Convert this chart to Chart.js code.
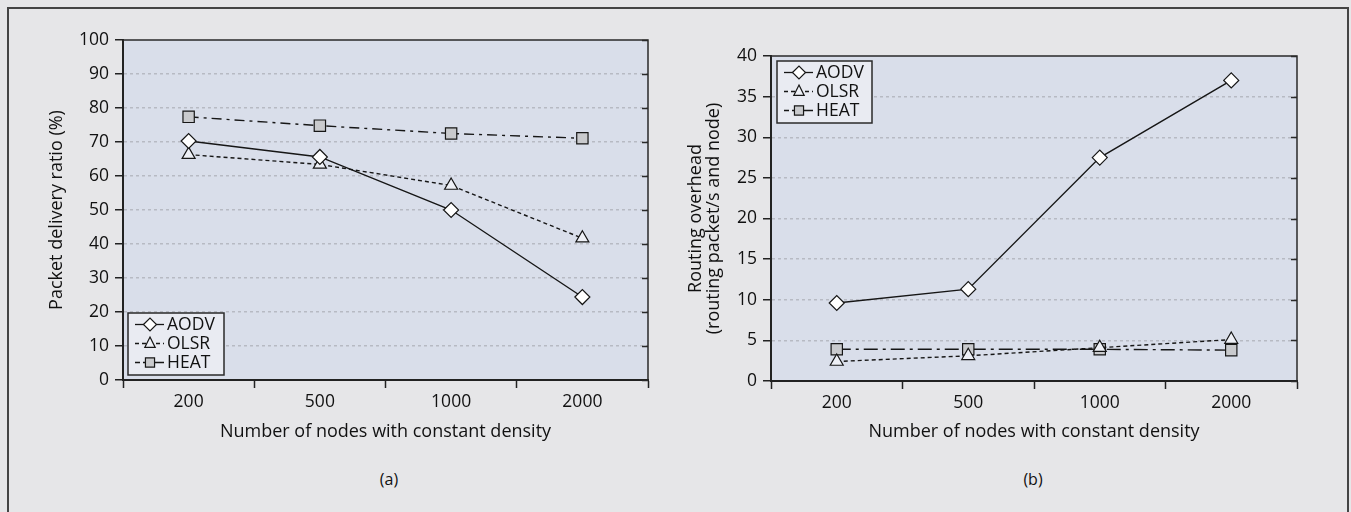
<!DOCTYPE html>
<html>
<head>
<meta charset="utf-8">
<script src="https://cdn.jsdelivr.net/npm/chart.js@4.4.1/dist/chart.umd.min.js"></script>
<style>
  html, body { margin: 0; padding: 0; background: #e6e6e8; width: 1351px; height: 512px; overflow: hidden; }
  #frame { position: absolute; left: 7px; top: 7px; width: 1338px; height: 520px; border: 2px solid #444; border-bottom: none; }
  canvas { position: absolute; top: 0; }
  #chartA { left: 0; }
  #chartB { left: 680px; }
  .cap { position: absolute; top: 468px; font: 16px "Open Sans", sans-serif; color: #111; transform: translateX(-50%); }
</style>
</head>
<body>
<div id="frame"></div>
<canvas id="chartA" width="680" height="460"></canvas>
<canvas id="chartB" width="671" height="460"></canvas>
<div class="cap" style="left:389px">(a)</div>
<div class="cap" style="left:1033px">(b)</div>
<script>
// data
const categories = ["200", "500", "1000", "2000"];
const seriesNames = ["AODV", "OLSR", "HEAT"];

const deliveryAODV = [70.3, 65.6, 50.0, 24.4];
const deliveryOLSR = [66.3, 63.4, 57.2, 41.7];
const deliveryHEAT = [77.4, 74.8, 72.5, 71.1];

const overheadAODV = [9.6, 11.3, 27.5, 37.0];
const overheadOLSR = [2.4, 3.1, 4.1, 5.1];
const overheadHEAT = [3.9, 3.9, 3.9, 3.8];

const FONT = '"Open Sans", sans-serif';
const INK = "#161616";

function drawMarker(ctx, style, x, y, r, fill) {
  ctx.save();
  ctx.fillStyle = fill;
  ctx.strokeStyle = INK;
  ctx.lineWidth = 1.2;
  ctx.setLineDash([]);
  ctx.beginPath();
  if (style === "rectRot") {
    ctx.moveTo(x - r, y); ctx.lineTo(x, y - r); ctx.lineTo(x + r, y); ctx.lineTo(x, y + r);
  } else if (style === "triangle") {
    ctx.moveTo(x, y - r); ctx.lineTo(x + r * 0.8, y + r * 0.6); ctx.lineTo(x - r * 0.8, y + r * 0.6);
  } else {
    ctx.rect(x - r * 0.7, y - r * 0.7, r * 1.4, r * 1.4);
  }
  ctx.closePath();
  ctx.fill();
  ctx.stroke();
  ctx.restore();
}

// plot background, top/right border and inner ticks on the right
const plotFrame = {
  id: "plotFrame",
  beforeDraw(chart, args, opts) {
    const { ctx, chartArea: a } = chart;
    ctx.save();
    ctx.fillStyle = opts.fill;
    ctx.fillRect(a.left, a.top, a.right - a.left, a.bottom - a.top);
    ctx.restore();
  },
  beforeDatasetsDraw(chart) {
    const { ctx, chartArea: a } = chart;
    const y = chart.scales.y;
    ctx.save();
    ctx.strokeStyle = "#2a2a2a";
    ctx.lineWidth = 1.5;
    ctx.beginPath();
    ctx.moveTo(a.left, a.top); ctx.lineTo(a.right, a.top); ctx.lineTo(a.right, a.bottom);
    ctx.stroke();
    ctx.beginPath();
    y.ticks.forEach((t) => {
      const py = Math.round(y.getPixelForValue(t.value)) + 0.5;
      ctx.moveTo(a.right, py); ctx.lineTo(a.right - 6, py);
    });
    ctx.stroke();
    ctx.restore();
  },
};

// boxed legend inside the plot area
const boxLegend = {
  id: "boxLegend",
  afterDraw(chart, args, opts) {
    const { ctx, chartArea: a } = chart;
    const bx = a.left + opts.dx;
    const by = opts.fromBottom ? a.bottom - opts.dy : a.top + opts.dy;
    ctx.save();
    ctx.fillStyle = "#e9ebf2";
    ctx.strokeStyle = "#2a2a2a";
    ctx.lineWidth = 1.5;
    ctx.fillRect(bx, by, opts.w, opts.h);
    ctx.strokeRect(bx, by, opts.w, opts.h);
    chart.data.datasets.forEach((ds, i) => {
      const cy = by + 11.5 + i * 19;
      ctx.strokeStyle = INK;
      ctx.lineWidth = 1.3;
      ctx.setLineDash(opts.dashes[i]);
      ctx.beginPath();
      ctx.moveTo(bx + 7, cy); ctx.lineTo(bx + 36, cy);
      ctx.stroke();
      drawMarker(ctx, ds.pointStyle, bx + 22, cy, 6.5, ds.pointBackgroundColor);
      ctx.setLineDash([]);
      ctx.fillStyle = "#111";
      ctx.font = "17.5px " + FONT;
      ctx.textBaseline = "middle";
      ctx.fillText(ds.label, bx + 39, cy + 1);
    });
    ctx.restore();
  },
};

function makeDatasets(aodv, olsr, heat, heatDash) {
  const base = { borderColor: INK, borderWidth: 1.4, pointBorderColor: INK, pointBorderWidth: 1.2, tension: 0 };
  return [
    { ...base, label: seriesNames[0], data: aodv, pointStyle: "rectRot", pointRadius: 7.5, pointBackgroundColor: "#ffffff" },
    { ...base, label: seriesNames[1], data: olsr, borderDash: [4, 3], pointStyle: "triangle", pointRadius: 7.5, pointBackgroundColor: "#eef0f6" },
    { ...base, label: seriesNames[2], data: heat, borderDash: heatDash, pointStyle: "rect", pointRadius: 8, pointBackgroundColor: "#c9cacd" },
  ];
}

function makeOptions(cfg) {
  return {
    responsive: false,
    animation: false,
    layout: { padding: { top: cfg.top, right: cfg.right, left: 0, bottom: 0 } },
    plugins: {
      legend: { display: false },
      tooltip: { enabled: false },
      plotFrame: { fill: "#d9deea" },
      boxLegend: cfg.legend,
    },
    scales: {
      x: {
        type: "category",
        offset: true,
        grid: { drawOnChartArea: false, offset: true, tickLength: 8, tickColor: "#222", tickWidth: 1.5 },
        border: { color: "#222", width: 2 },
        ticks: { color: "#111", font: { family: FONT, size: 17.5 }, padding: 4, maxRotation: 0 },
        title: {
          display: true, text: "Number of nodes with constant density", color: "#111",
          font: { family: FONT, size: 18, lineHeight: 1.2 }, padding: { top: 0, bottom: 17 },
        },
        afterFit: (s) => { s.height = cfg.xHeight; },
      },
      y: {
        min: 0,
        max: cfg.max,
        ticks: { stepSize: cfg.step, color: "#111", font: { family: FONT, size: 17.5 }, padding: 6 },
        grid: {
          color: (c) => (c.tick && (c.tick.value === 0 || c.tick.value === cfg.max)) ? "rgba(0,0,0,0)" : "#b7bac3",
          lineWidth: 1.5, tickLength: 8, tickColor: "#222", tickWidth: 1.5,
        },
        border: { color: "#222", width: 2, dash: [3, 3] },
        title: {
          display: true, text: cfg.yTitle, color: "#111",
          font: { family: FONT, size: 18, lineHeight: 1.0 }, padding: { top: cfg.yTitlePad, bottom: 0 },
        },
        afterFit: (s) => { s.width = cfg.yWidth; },
      },
    },
  };
}

new Chart(document.getElementById("chartA"), {
  type: "line",
  data: { labels: categories, datasets: makeDatasets(deliveryAODV, deliveryOLSR, deliveryHEAT, [10, 5, 3, 5]) },
  options: makeOptions({
    top: 40, right: 32, xHeight: 80, yWidth: 123, max: 100, step: 10,
    yTitle: "Packet delivery ratio (%)", yTitlePad: 48,
    legend: { dx: 5, dy: 67, fromBottom: true, w: 96, h: 62, dashes: [[], [4, 3], [5, 3, 40]] },
  }),
  plugins: [plotFrame, boxLegend],
});

new Chart(document.getElementById("chartB"), {
  type: "line",
  data: { labels: categories, datasets: makeDatasets(overheadAODV, overheadOLSR, overheadHEAT, [14, 5, 3, 5]) },
  options: makeOptions({
    top: 56, right: 54, xHeight: 79, yWidth: 91, max: 40, step: 5,
    yTitle: ["Routing overhead", "(routing packet/s and node)"], yTitlePad: 7,
    legend: { dx: 6, dy: 5, fromBottom: false, w: 95, h: 62, dashes: [[], [4, 3], [5, 3, 40]] },
  }),
  plugins: [plotFrame, boxLegend],
});
</script>
</body>
</html>
